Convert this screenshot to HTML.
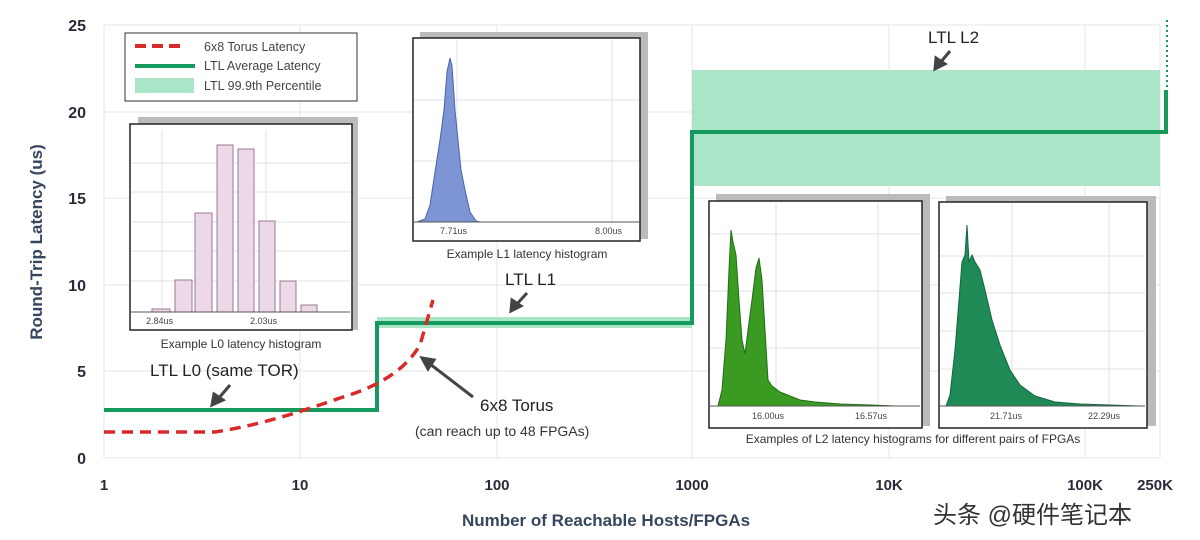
<!DOCTYPE html>
<html><head><meta charset="utf-8"><style>
body{margin:0;background:#fff;}
svg{display:block;font-family:"Liberation Sans","Noto Sans CJK SC",sans-serif;}
</style></head><body>
<svg width="1200" height="540" viewBox="0 0 1200 540">
<rect width="1200" height="540" fill="#fff"/>
<g stroke="#e4e4e4" stroke-width="1">
<line x1="104" y1="25" x2="1160" y2="25"/>
<line x1="104" y1="112" x2="1160" y2="112"/>
<line x1="104" y1="198" x2="1160" y2="198"/>
<line x1="104" y1="285" x2="1160" y2="285"/>
<line x1="104" y1="371" x2="1160" y2="371"/>
<line x1="104" y1="458" x2="1160" y2="458"/>
<line x1="104" y1="25" x2="104" y2="458"/>
<line x1="300" y1="25" x2="300" y2="458"/>
<line x1="497" y1="25" x2="497" y2="458"/>
<line x1="692" y1="25" x2="692" y2="458"/>
<line x1="889" y1="25" x2="889" y2="458"/>
<line x1="1085" y1="25" x2="1085" y2="458"/>
<line x1="1160" y1="25" x2="1160" y2="458"/>
</g>
<g font-size="16" font-weight="bold" fill="#2a2a3a" text-anchor="end">
<text x="86" y="31">25</text><text x="86" y="118">20</text><text x="86" y="204">15</text>
<text x="86" y="291">10</text><text x="86" y="377">5</text><text x="86" y="464">0</text>
</g>
<g font-size="15" font-weight="bold" fill="#2a2a3a" text-anchor="middle">
<text x="104" y="490">1</text><text x="300" y="490">10</text><text x="497" y="490">100</text>
<text x="692" y="490">1000</text><text x="889" y="490">10K</text><text x="1085" y="490">100K</text><text x="1155" y="490">250K</text>
</g>
<text x="606" y="526" font-size="17" font-weight="bold" fill="#36465e" text-anchor="middle">Number of Reachable Hosts/FPGAs</text>
<text transform="translate(42,242) rotate(-90)" font-size="17" font-weight="bold" fill="#36465e" text-anchor="middle">Round-Trip Latency (us)</text>

<rect x="377" y="317" width="315" height="11" fill="#a9e5c6"/>
<rect x="692" y="70" width="468" height="116" fill="#a9e5c6"/>
<polyline points="104,410 377,410 377,323 692,323 692,132 1166,132 1166,90" fill="none" stroke="#15995c" stroke-width="4"/>
<line x1="1167" y1="20" x2="1167" y2="92" stroke="#15995c" stroke-width="2" stroke-dasharray="2,3"/>
<path d="M104,432 L215,432 C260,425 300,412 340,398 C380,386 405,370 420,345 L433,300" fill="none" stroke="#d92a2a" stroke-width="3.5" stroke-dasharray="11,7"/>

<rect x="125" y="33" width="232" height="68" fill="#fff" stroke="#333" stroke-width="1"/>
<line x1="135" y1="46" x2="186" y2="46" stroke="#d92a2a" stroke-width="4" stroke-dasharray="11,6"/>
<line x1="135" y1="66" x2="195" y2="66" stroke="#15995c" stroke-width="4"/>
<rect x="135" y="78" width="59" height="15" fill="#a9e5c6"/>
<g font-size="12.5" fill="#444">
<text x="204" y="51">6x8 Torus Latency</text>
<text x="204" y="70">LTL Average Latency</text>
<text x="204" y="90">LTL 99.9th Percentile</text>
</g>

<rect x="138" y="117" width="220" height="213" fill="#bbb"/>
<rect x="130" y="124" width="222" height="206" fill="#fff" stroke="#222" stroke-width="1.5"/>
<g stroke="#e2e2e2"><line x1="162" y1="130" x2="162" y2="312"/><line x1="266" y1="130" x2="266" y2="312"/>
<line x1="131" y1="163" x2="350" y2="163"/><line x1="131" y1="192" x2="350" y2="192"/><line x1="131" y1="222" x2="350" y2="222"/><line x1="131" y1="251" x2="350" y2="251"/><line x1="131" y1="281" x2="350" y2="281"/></g>
<g fill="#ecd8e6" stroke="#9a7a90" stroke-width="1">
<rect x="152" y="309" width="18" height="3"/>
<rect x="175" y="280" width="17" height="32"/>
<rect x="195" y="213" width="17" height="99"/>
<rect x="217" y="145" width="16" height="167"/>
<rect x="238" y="149" width="16" height="163"/>
<rect x="259" y="221" width="16" height="91"/>
<rect x="280" y="281" width="16" height="31"/>
<rect x="301" y="305" width="16" height="7"/>
</g>
<line x1="131" y1="312" x2="350" y2="312" stroke="#555"/>
<g font-size="9" fill="#444"><text x="146" y="324">2.84us</text><text x="250" y="324">2.03us</text></g>
<text x="241" y="348" font-size="12" fill="#333" text-anchor="middle">Example L0 latency histogram</text>

<rect x="420" y="32" width="228" height="207" fill="#bbb"/>
<rect x="413" y="38" width="227" height="203" fill="#fff" stroke="#222" stroke-width="1.5"/>
<g stroke="#e2e2e2"><line x1="457" y1="40" x2="457" y2="222"/><line x1="612" y1="40" x2="612" y2="222"/>
<line x1="414" y1="100" x2="639" y2="100"/><line x1="414" y1="161" x2="639" y2="161"/></g>
<path d="M417,222 L425,219 L430,205 L435,172 L440,140 L444,110 L447,72 L450,58 L452,66 L455,110 L458,140 L461,170 L465,190 L470,212 L476,221 L480,222 Z" fill="#7d95d4" stroke="#4b63ab"/>
<line x1="414" y1="222" x2="639" y2="222" stroke="#555"/>
<g font-size="9" fill="#444"><text x="440" y="234">7.71us</text><text x="595" y="234">8.00us</text></g>
<text x="527" y="258" font-size="12" fill="#333" text-anchor="middle">Example L1 latency histogram</text>

<rect x="716" y="194" width="214" height="232" fill="#bbb"/>
<rect x="709" y="201" width="213" height="227" fill="#fff" stroke="#222" stroke-width="1.5"/>
<g stroke="#e2e2e2"><line x1="776" y1="203" x2="776" y2="406"/><line x1="878" y1="203" x2="878" y2="406"/>
<line x1="710" y1="234" x2="920" y2="234"/><line x1="710" y1="291" x2="920" y2="291"/><line x1="710" y1="348" x2="920" y2="348"/></g>
<path d="M718,406 L722,390 L726,340 L729,270 L731,230 L733,242 L736,255 L739,300 L742,340 L745,354 L748,330 L752,300 L756,268 L759,258 L762,280 L765,330 L768,380 L772,386 L780,392 L790,396 L800,400 L815,402 L840,404 L870,405 L895,406 Z" fill="#3a9a22" stroke="#1f6e13"/>
<line x1="710" y1="406" x2="920" y2="406" stroke="#555"/>
<g font-size="9" fill="#444"><text x="752" y="419">16.00us</text><text x="855" y="419">16.57us</text></g>

<rect x="946" y="196" width="210" height="230" fill="#bbb"/>
<rect x="939" y="202" width="208" height="226" fill="#fff" stroke="#222" stroke-width="1.5"/>
<g stroke="#e2e2e2"><line x1="1012" y1="204" x2="1012" y2="406"/><line x1="1109" y1="204" x2="1109" y2="406"/>
<line x1="940" y1="256" x2="1145" y2="256"/><line x1="940" y1="293" x2="1145" y2="293"/><line x1="940" y1="331" x2="1145" y2="331"/><line x1="940" y1="369" x2="1145" y2="369"/></g>
<path d="M946,406 L950,395 L955,350 L959,300 L962,262 L965,255 L967,225 L969,262 L972,255 L975,262 L980,270 L985,290 L992,320 L1000,345 L1010,370 L1020,385 L1035,396 L1055,402 L1080,404 L1110,405 L1140,406 Z" fill="#1f8a55" stroke="#146640"/>
<line x1="940" y1="406" x2="1145" y2="406" stroke="#555"/>
<g font-size="9" fill="#444"><text x="990" y="419">21.71us</text><text x="1088" y="419">22.29us</text></g>
<text x="913" y="443" font-size="12" fill="#333" text-anchor="middle">Examples of L2 latency histograms for different pairs of FPGAs</text>

<g font-size="17" fill="#222">
<text x="150" y="376">LTL L0 (same TOR)</text>
<text x="505" y="285">LTL L1</text>
<text x="928" y="43">LTL L2</text>
<text x="480" y="411">6x8 Torus</text>
</g>
<text x="415" y="436" font-size="14" fill="#333">(can reach up to 48 FPGAs)</text>
<g stroke="#444" stroke-width="3" fill="#444">
<line x1="230" y1="385" x2="218" y2="399"/><polygon points="212,405 214,394 223,400"/>
<line x1="527" y1="293" x2="516" y2="305"/><polygon points="511,311 512,300 521,306"/>
<line x1="950" y1="51" x2="940" y2="63"/><polygon points="935,69 936,58 945,64"/>
<line x1="473" y1="397" x2="430" y2="364"/><polygon points="422,358 434,360 428,369"/>
</g>
<text x="933" y="523" font-size="24" fill="#333">头条 @硬件笔记本</text>
</svg>
</body></html>
